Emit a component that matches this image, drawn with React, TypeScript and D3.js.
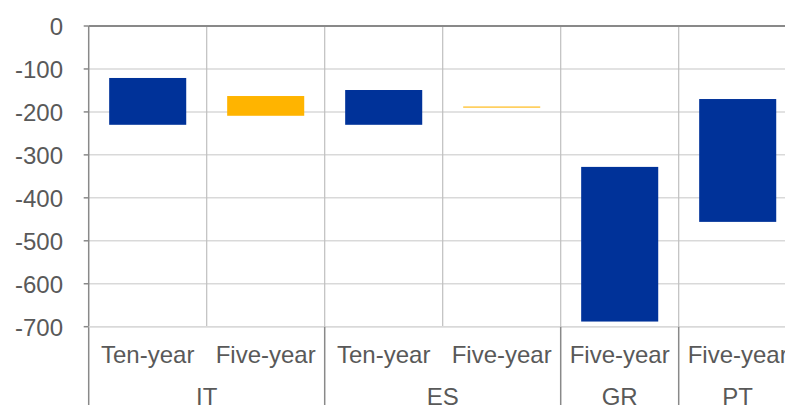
import React from "react";
import * as d3 from "d3";

const groups = ["IT", "IT", "ES", "ES", "GR", "PT"];
const maturities = ["Ten-year", "Five-year", "Ten-year", "Five-year", "Five-year", "Five-year"];
const seriesKind = ["dark", "light", "dark", "light", "dark", "dark"];
const lowValues = [-230, -209, -230, -190, -688, -456];
const highValues = [-121, -163, -149, -187.5, -328, -170];
const yTicks = [0, -100, -200, -300, -400, -500, -600, -700];

const W = 785;
const H = 405;
const left = 88.7;
const top = 26;
const bottom = 326.7;
const step = 118;
const right = left + step * groups.length;

const colors: Record<string, string> = { dark: "#003299", light: "#FFB400" };
const FONT = "'Liberation Sans', Arial, sans-serif";
const TEXT = "#595959";
const FS = 24;

export default function App() {
  const idx = groups.map((_, i) => String(i));
  const x = d3.scaleBand<string>().domain(idx).range([left, right]).paddingInner(0.347).paddingOuter(0.1735);
  const slot = d3.scaleBand<string>().domain(idx).range([left, right]).padding(0);
  const y = d3.scaleLinear().domain([-700, 0]).range([bottom, top]);

  const spans: { name: string; start: number; end: number }[] = [];
  groups.forEach((g, i) => {
    const last = spans[spans.length - 1];
    if (last && last.name === g) last.end = i;
    else spans.push({ name: g, start: i, end: i });
  });

  return (
    <svg
      width={W}
      height={H}
      style={{ position: "fixed", left: 0, top: 0, background: "#fff" }}
      fontFamily={FONT}
    >
      <rect x={0} y={0} width={W} height={H} fill="#fff" />
      {yTicks.filter((t) => t !== 0).map((t) => (
        <line key={"g" + t} x1={left} x2={W} y1={y(t)} y2={y(t)} stroke="#d9d9d9" strokeWidth={1.5} />
      ))}
      {idx.slice(1).map((k) => (
        <line key={"v" + k} x1={slot(k)!} x2={slot(k)!} y1={top} y2={bottom} stroke="#bfbfbf" strokeWidth={1.2} />
      ))}
      {idx.map((k, i) => {
        const y0 = y(highValues[i]);
        const y1 = y(lowValues[i]);
        return (
          <rect
            key={"b" + k}
            x={x(k)!}
            width={x.bandwidth()}
            y={y0}
            height={Math.max(1, y1 - y0)}
            fill={colors[seriesKind[i]]}
          />
        );
      })}
      <line x1={left} x2={left} y1={top} y2={H} stroke="#898989" strokeWidth={1.5} />
      {yTicks.map((t) => (
        <g key={"t" + t}>
          <line x1={left - 5} x2={left} y1={y(t)} y2={y(t)} stroke="#898989" strokeWidth={1.5} />
          <text x={63} y={y(t) + 9} textAnchor="end" fontSize={FS} fill={TEXT}>
            {t}
          </text>
        </g>
      ))}
      <line x1={left} x2={W} y1={y(0)} y2={y(0)} stroke="#898989" strokeWidth={2} />
      <line x1={left} x2={W} y1={bottom} y2={bottom} stroke="#d9d9d9" strokeWidth={1.5} />
      {spans.slice(1).map((s) => (
        <line
          key={"s" + s.name}
          x1={slot(String(s.start))!}
          x2={slot(String(s.start))!}
          y1={bottom}
          y2={H}
          stroke="#898989"
          strokeWidth={1.5}
        />
      ))}
      {idx.map((k, i) => (
        <text
          key={"m" + k}
          x={slot(k)! + slot.bandwidth() / 2}
          y={363}
          textAnchor="middle"
          fontSize={FS}
          fill={TEXT}
        >
          {maturities[i]}
        </text>
      ))}
      {spans.map((s) => {
        const cx = (slot(String(s.start))! + slot(String(s.end))! + slot.bandwidth()) / 2;
        return (
          <text key={"n" + s.name} x={cx} y={405} textAnchor="middle" fontSize={FS} fill={TEXT}>
            {s.name}
          </text>
        );
      })}
    </svg>
  );
}
